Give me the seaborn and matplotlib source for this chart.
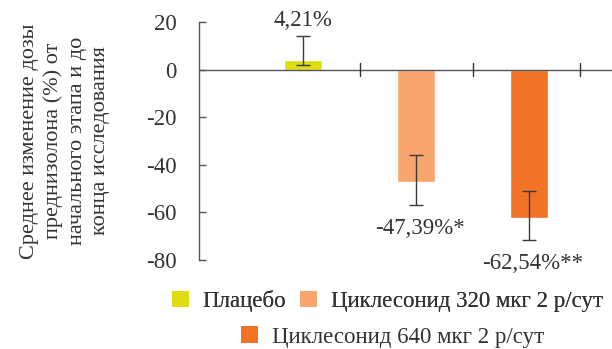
import matplotlib
matplotlib.use("Agg")
import matplotlib.pyplot as plt
import seaborn as sns
import pandas as pd
import numpy as np
from matplotlib.patches import Patch

groups = ["Плацебо", "Циклесонид 320 мкг 2 р/сут", "Циклесонид 640 мкг 2 р/сут"]
values = [4.21, -47.39, -62.54]
err_low = [2.2, 9.6, 9.0]
err_high = [10.0, 11.4, 11.5]
labels = ["4,21%", "-47,39%*", "-62,54%**"]
colors = ["#DFDC12", "#F8A56E", "#F27226"]
yticks = [20, 0, -20, -40, -60, -80]

sns.set_theme(style="white")
plt.rcParams["font.family"] = ["Liberation Serif", "DejaVu Serif"]

FS = 16.5
TXT = "#333333"

df = pd.DataFrame({"group": groups, "value": values})

fig = plt.figure(figsize=(6.12, 3.49), dpi=100)
ax = fig.add_axes([199 / 612, 1 - 260 / 349, 1 - 199 / 612, 238 / 349])

sns.barplot(data=df, x="group", y="value", hue="group", palette=colors,
            order=groups, hue_order=groups, dodge=False, width=0.336,
            errorbar=None, legend=False, ax=ax, saturation=1)

x = np.arange(len(groups))
ax.errorbar(x, values, yerr=[err_low, err_high], fmt="none",
            ecolor="#3a3a3a", elinewidth=1.0, capsize=5, capthick=1.0, zorder=5)

ax.set_xlim(-0.92, 2.73)
ax.set_ylim(-80, 20)
ax.set_yticks(yticks)
ax.set_yticklabels([str(t) for t in yticks], fontsize=FS, color=TXT)
ax.set_xticks([0.5, 1.5, 2.45])
ax.set_xticklabels([])
ax.set_xlabel("")
ax.set_ylabel("Среднее изменение дозы\nпреднизолона (%) от\nначального этапа и до\nконца исследования",
              fontsize=16, color=TXT, linespacing=1.32, labelpad=26)

for s in ["top", "right", "bottom"]:
    ax.spines[s].set_visible(False)
ax.spines["left"].set_color("#555555")
ax.spines["left"].set_linewidth(1.0)
ax.axhline(0, color="#555555", lw=1.0, zorder=4)
ax.tick_params(axis="y", left=True, direction="in", length=5, width=1.0,
               color="#555555", pad=16)
ax.tick_params(axis="x", bottom=False)
for xt in [0.5, 1.5, 2.45]:
    ax.plot([xt, xt], [-2.6, 2.6], color="#333333", lw=1.0, zorder=5, clip_on=False)

# value annotations
ax.text(0, 16.3, labels[0], ha="center", va="bottom", fontsize=FS, color=TXT)
ax.text(1.03, -66.8, labels[1], ha="center", va="center", fontsize=FS, color=TXT)
ax.text(2.03, -81.5, labels[2], ha="center", va="center", fontsize=FS, color=TXT, clip_on=False)

h = [Patch(facecolor=c, edgecolor="none") for c in colors]
leg1 = fig.legend(h[:2], groups[:2], loc="center", bbox_to_anchor=(0.633, 1 - 301 / 349),
                  ncol=2, frameon=False, fontsize=FS, handlelength=0.75, handleheight=0.75,
                  handletextpad=0.6, columnspacing=0.6, labelcolor=TXT,
                  borderpad=0, borderaxespad=0)
leg2 = fig.legend(h[2:], groups[2:], loc="center", bbox_to_anchor=(0.641, 1 - 337 / 349),
                  ncol=1, frameon=False, fontsize=FS, handlelength=0.75, handleheight=0.75,
                  handletextpad=0.6, labelcolor=TXT, borderpad=0, borderaxespad=0)
fig.add_artist(leg1)

fig.savefig("out.png", dpi=100)
